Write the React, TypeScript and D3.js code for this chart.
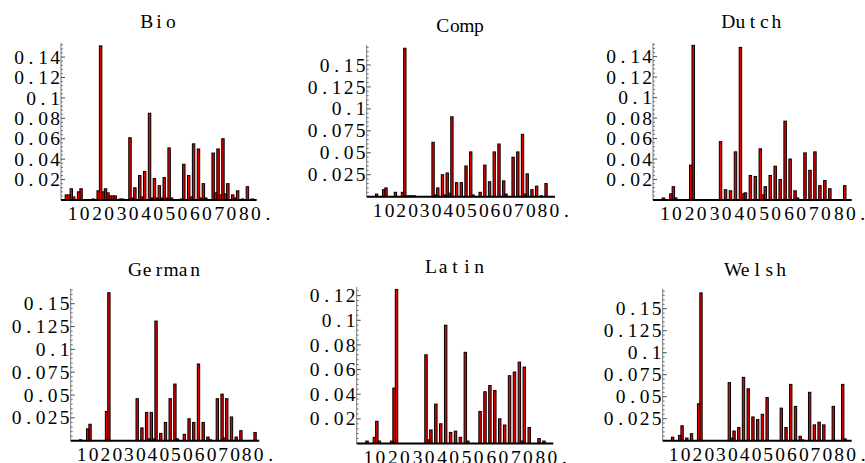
import React from 'react';
import * as d3 from 'd3';

// bar positions 1..82
const positions = d3.range(1, 83);

const bio = [
  0, 0, 0, 0, 0.005, 0.005, 0.011, 0.003, 0, 0.008,
  0.011, 0, 0, 0, 0, 0.001, 0, 0.009, 0.151, 0.008,
  0.011, 0.007, 0.004, 0.004, 0.004, 0, 0.001, 0.001, 0, 0,
  0.061, 0.002, 0.012, 0, 0.024, 0.003, 0.028, 0, 0.085, 0.002,
  0.021, 0.002, 0.014, 0.002, 0.022, 0.002, 0.051, 0.002, 0, 0,
  0, 0.001, 0.035, 0, 0.024, 0.003, 0.055, 0, 0.05, 0.002,
  0.016, 0.002, 0, 0, 0.046, 0.007, 0.05, 0.005, 0.06, 0.006,
  0.016, 0, 0.005, 0.002, 0.009, 0, 0.001, 0, 0.013, 0,
  0.001, 0,
];
const comp = [
  0, 0, 0, 0, 0, 0, 0.003, 0, 0, 0.008,
  0.01, 0, 0, 0, 0.005, 0, 0, 0.005, 0.169, 0.001,
  0.001, 0.001, 0.001, 0, 0, 0, 0, 0, 0, 0,
  0.062, 0.002, 0.01, 0, 0.025, 0.002, 0.027, 0.004, 0.091, 0,
  0.016, 0, 0.016, 0, 0.035, 0, 0.051, 0.002, 0, 0,
  0.005, 0, 0.036, 0, 0.017, 0, 0.051, 0, 0.06, 0,
  0.018, 0.003, 0, 0, 0.045, 0, 0.051, 0, 0.071, 0.003,
  0.026, 0, 0.008, 0, 0.012, 0, 0.001, 0, 0.015, 0,
  0, 0,
];
const dutch = [
  0, 0, 0, 0, 0, 0, 0.002, 0, 0, 0.006,
  0.013, 0.002, 0, 0, 0, 0, 0, 0.034, 0.151, 0,
  0, 0, 0, 0, 0, 0, 0, 0, 0, 0.057,
  0, 0.01, 0, 0.009, 0, 0.047, 0, 0.149, 0.006, 0.007,
  0, 0.024, 0, 0.023, 0, 0.05, 0.005, 0.013, 0, 0.024,
  0, 0.033, 0, 0.02, 0, 0.077, 0, 0.04, 0, 0.009,
  0.002, 0, 0, 0.046, 0, 0.029, 0, 0.047, 0, 0.014,
  0, 0.019, 0, 0.011, 0, 0, 0, 0, 0, 0.014,
  0, 0,
];
const german = [
  0, 0, 0, 0, 0, 0, 0.001, 0, 0, 0.013,
  0.018, 0, 0, 0, 0, 0, 0, 0.032, 0.162, 0,
  0, 0, 0, 0, 0, 0, 0, 0, 0, 0,
  0.046, 0, 0.014, 0, 0.031, 0.002, 0.031, 0.002, 0.131, 0,
  0.008, 0, 0.02, 0, 0.046, 0, 0.062, 0.002, 0, 0,
  0.007, 0, 0.024, 0, 0.02, 0, 0.084, 0, 0.02, 0,
  0.004, 0.001, 0, 0, 0.046, 0, 0.051, 0.003, 0.046, 0,
  0.026, 0, 0.004, 0, 0.011, 0, 0, 0, 0, 0,
  0.009, 0,
];
const latin = [
  0, 0, 0, 0, 0, 0, 0.002, 0, 0, 0.005,
  0.018, 0.002, 0, 0, 0, 0, 0.002, 0.045, 0.125, 0,
  0, 0, 0, 0, 0, 0, 0, 0, 0, 0,
  0.072, 0.003, 0.011, 0, 0.032, 0, 0.016, 0, 0.096, 0,
  0.009, 0, 0.01, 0, 0.005, 0, 0.074, 0.002, 0, 0,
  0, 0, 0.026, 0, 0.042, 0, 0.047, 0, 0.043, 0,
  0.02, 0, 0.015, 0, 0.055, 0, 0.058, 0, 0.066, 0.002,
  0.062, 0, 0.013, 0, 0, 0, 0.004, 0, 0.002, 0,
  0, 0,
];
const welsh = [
  0, 0, 0, 0, 0, 0, 0.004, 0, 0, 0.006,
  0.017, 0, 0.003, 0, 0.008, 0, 0, 0.042, 0.168, 0,
  0, 0, 0, 0, 0, 0, 0, 0, 0, 0,
  0.066, 0.003, 0.011, 0, 0.015, 0, 0.072, 0, 0.059, 0,
  0.027, 0, 0.024, 0, 0.03, 0, 0.049, 0, 0, 0,
  0, 0, 0.037, 0, 0.015, 0, 0.064, 0, 0.039, 0,
  0.005, 0.001, 0, 0, 0.055, 0, 0.018, 0, 0.021, 0,
  0.018, 0, 0, 0, 0.039, 0, 0, 0, 0.064, 0.002,
  0, 0,
];

const titles = ['Bio', 'Comp', 'Dutch', 'German', 'Latin', 'Welsh'];
const xTickValues = [10, 20, 30, 40, 50, 60, 70, 80];
const xTickLabels = ['10', '20', '30', '40', '50', '60', '70', '80.'];
const yTicksA = [0.02, 0.04, 0.06, 0.08, 0.1, 0.12, 0.14];
const yLabelsA = ['0.02', '0.04', '0.06', '0.08', '0.1', '0.12', '0.14'];
const yTicksB = [0.025, 0.05, 0.075, 0.1, 0.125, 0.15];
const yLabelsB = ['0.025', '0.05', '0.075', '0.1', '0.125', '0.15'];
const yTicksC = [0.02, 0.04, 0.06, 0.08, 0.1, 0.12];
const yLabelsC = ['0.02', '0.04', '0.06', '0.08', '0.1', '0.12'];

const seriesList = [bio, comp, dutch, german, latin, welsh];

// layout of each panel (pixel frame)
const layout = [
  { left: 61, right: 256.7, base: 200, top: 43, yMax: 0.1538, ticks: yTicksA, labels: yLabelsA, minor: 0.004, titleY: 28.3 },
  { left: 366.7, right: 555, base: 196.7, top: 45, yMax: 0.1727, ticks: yTicksB, labels: yLabelsB, minor: 0.005, titleY: 31.5 },
  { left: 653, right: 851.7, base: 200, top: 43, yMax: 0.1533, ticks: yTicksA, labels: yLabelsA, minor: 0.004, titleY: 28.3 },
  { left: 70.7, right: 259.3, base: 440.7, top: 289, yMax: 0.1661, ticks: yTicksB, labels: yLabelsB, minor: 0.005, titleY: 275.5 },
  { left: 356.7, right: 553.3, base: 443.5, top: 287, yMax: 0.127, ticks: yTicksC, labels: yLabelsC, minor: 0.004, titleY: 273 },
  { left: 662.7, right: 851.7, base: 440.7, top: 289, yMax: 0.1724, ticks: yTicksB, labels: yLabelsB, minor: 0.005, titleY: 276 },
];

const X_DOMAIN: [number, number] = [2.8, 82.8];
const FONT = "'Liberation Serif', 'DejaVu Serif', serif";
const FS = 19.5;
const CELL = 12; // monospace-like character pitch of the original

// text with a fixed character pitch, imitating a Courier face:
// every character is centred in its own cell
function MonoText(props: {
  x: number;
  y: number;
  text: string;
  anchor: 'start' | 'middle' | 'end';
  dy?: string;
}) {
  const chars = props.text.split('');
  const total = chars.length * CELL;
  const start =
    props.anchor === 'start' ? props.x : props.anchor === 'middle' ? props.x - total / 2 : props.x - total;
  const xs = chars.map((_, k) => (start + (k + 0.5) * CELL).toFixed(2)).join(' ');
  return (
    <text x={xs} y={props.y} dy={props.dy} textAnchor="middle" fontFamily={FONT} fontSize={FS} fill="#000">
      {props.text}
    </text>
  );
}

function Panel({ idx }: { idx: number }) {
  const L = layout[idx];
  const data = seriesList[idx];
  const x = d3.scaleLinear().domain(X_DOMAIN).range([L.left, L.right]);
  const y = d3.scaleLinear().domain([0, L.yMax]).range([L.base, L.top]);
  const w = x(1) - x(0);
  const minorTicks = d3.range(L.minor, L.yMax, L.minor).filter(
    (t) => !L.ticks.some((m) => Math.abs(m - t) < 1e-9)
  );
  const bars = positions
    .map((p, i) => ({ p, v: data[i] }))
    .filter((d) => d.v > 0)
    .sort((a, b) => b.v - a.v);
  return (
    <g>
      <MonoText x={(L.left + L.right) / 2} y={L.titleY} text={titles[idx]} anchor="middle" />
      {bars.map((d) => (
        <rect
          key={d.p}
          x={x(d.p) - w / 2}
          y={y(d.v)}
          width={w}
          height={Math.max(0.2, L.base - y(d.v))}
          fill="#e80000"
          stroke="#000"
          strokeWidth={1}
        />
      ))}
      {/* y axis */}
      <line x1={L.left} x2={L.left} y1={L.base} y2={L.top} stroke="#555" strokeWidth={0.8} />
      {minorTicks.map((t) => (
        <line key={'m' + t} x1={L.left} x2={L.left + 2} y1={y(t)} y2={y(t)} stroke="#555" strokeWidth={0.8} />
      ))}
      {L.ticks.map((t, i) => (
        <g key={'t' + t}>
          <line x1={L.left} x2={L.left + 4} y1={y(t)} y2={y(t)} stroke="#333" strokeWidth={0.9} />
          <MonoText x={L.left} y={y(t)} dy="0.34em" text={L.labels[i]} anchor="end" />
        </g>
      ))}
      {/* x axis */}
      <line x1={L.left} x2={L.right} y1={L.base} y2={L.base} stroke="#000" strokeWidth={2} />
      {xTickValues.map((t, i) => (
        <MonoText key={'x' + t} x={x(t) - CELL} y={L.base + 20} text={xTickLabels[i]} anchor="start" />
      ))}
    </g>
  );
}

export default function App() {
  return (
    <svg
      width={865}
      height={463}
      viewBox="0 0 865 463"
      style={{ position: 'absolute', left: 0, top: 0, background: '#fff' }}
    >
      <rect x={0} y={0} width={865} height={463} fill="#fff" />
      {titles.map((_, i) => (
        <Panel key={i} idx={i} />
      ))}
    </svg>
  );
}
